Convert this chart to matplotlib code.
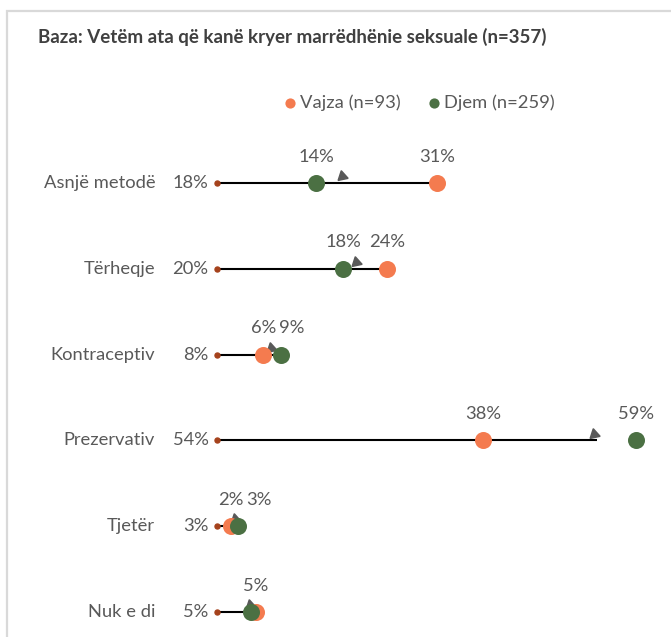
import matplotlib.pyplot as plt
from matplotlib.patches import Rectangle

plt.rcParams['font.family'] = ['Lato', 'DejaVu Sans']

categories = ['Asnjë metodë', 'Tërheqje', 'Kontraceptiv', 'Prezervativ', 'Tjetër', 'Nuk e di']
total = [18, 20, 8, 53.5, 3, 5]
vajza = [31, 24, 6.5, 37.5, 2, 5.5]
djem = [14, 17.8, 9, 59, 3, 4.8]
total_labels = ['18%', '20%', '8%', '54%', '3%', '5%']
vajza_labels = ['31%', '24%', '6%', '38%', '2%', '5%']
djem_labels = ['14%', '18%', '9%', '59%', '3%', '5%']

ORANGE = '#F47B4F'
GREEN = '#4B7043'
BROWN = '#A5421C'
GREY = '#595959'
FS = 13.2

W, H = 671, 637
fig = plt.figure(figsize=(W / 100, H / 100), dpi=100)

# light frame (top and left edges visible)
fig.patches.append(Rectangle((7 / W, -0.1), 2, (H - 11) / H + 0.1, transform=fig.transFigure,
                             fill=False, edgecolor='#D9D9D9', linewidth=1.6))

# axes placed so that 0% sits at x=217px, 1% = 7.1px
px_per = 7.1
x0px = 217
ax = fig.add_axes([180 / W, 0, (W - 180) / W, (H - 130) / H])
ax.set_xlim((180 - x0px) / px_per, (W - x0px) / px_per)
row0, step = 183, 85.8
ax.set_ylim((H - row0) / step, (130 - row0) / step)
ax.axis('off')

n = len(categories)
for i in range(n):
    end = max(vajza[i], total[i])
    ax.plot([0, end], [i, i], color='black', lw=1.5, zorder=1, solid_capstyle='butt')
    ax.plot(0, i, 'o', color=BROWN, ms=3.6, zorder=2, clip_on=False)
    # small arrow head at the total value
    ax.plot(total[i] - 0.4, i - 0.08, marker=(3, 0, 12), color=GREY, ms=8.5, zorder=3)
    ax.text(-1.2, i, total_labels[i], ha='right', va='center', fontsize=FS, color=GREY)
    ax.text(-8.7, i, categories[i], ha='right', va='center', fontsize=FS, color=GREY,
            clip_on=False)

sv = ax.scatter(vajza, range(n), s=150, color=ORANGE, zorder=4, linewidths=0,
                label='Vajza (n=93)')
sd = ax.scatter(djem, range(n), s=150, color=GREEN, zorder=5, linewidths=0,
                label='Djem (n=259)')

# label nudges in points (x) to avoid overlaps
v_nudge = [0, 0, 0, 0, 0, 0]
d_nudge = [0, 0, 8, 0, 15, 0]
for i in range(n):
    ax.annotate(vajza_labels[i], (vajza[i], i), xytext=(v_nudge[i], 19), textcoords='offset points',
                ha='center', va='center', fontsize=FS, color=GREY)
    if djem_labels[i] == vajza_labels[i] and abs(djem[i] - vajza[i]) < 1:
        continue
    ax.annotate(djem_labels[i], (djem[i], i), xytext=(d_nudge[i], 19), textcoords='offset points',
                ha='center', va='center', fontsize=FS, color=GREY)

fig.text(38 / W, 1 - 37 / H, 'Baza: Vetëm ata që kanë kryer marrëdhënie seksuale (n=357)',
         ha='left', va='center', fontsize=13.5, fontweight='bold', color='#404040')

fig.legend(handles=[sv, sd], loc='center', bbox_to_anchor=(418 / W, 1 - 103 / H), ncol=2,
           frameon=False, fontsize=FS, labelcolor=GREY, markerscale=0.6,
           handletextpad=0.05, columnspacing=1.3, handlelength=1.0)

fig.savefig('out.png', dpi=100, facecolor='white')
